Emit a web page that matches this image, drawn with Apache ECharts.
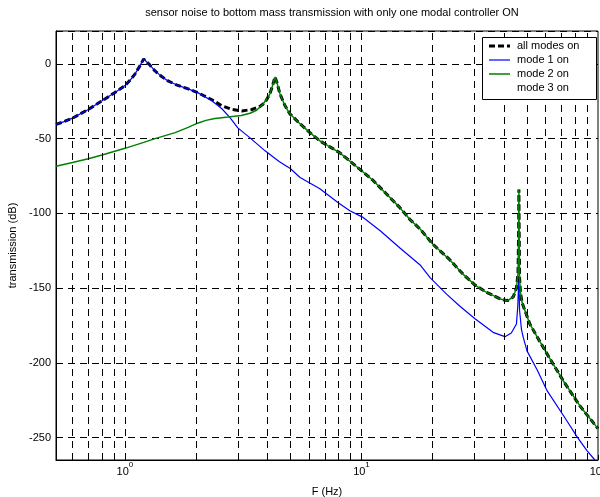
<!DOCTYPE html>
<html><head><meta charset="utf-8">
<script src="https://cdn.jsdelivr.net/npm/echarts@6/dist/echarts.min.js"></script>
<style>html,body{margin:0;padding:0;background:#fff}#c{width:600px;height:497px}</style>
</head><body><div id="c"></div>
<script>
const titleText = 'sensor noise to bottom mass transmission with only one modal controller ON';
const xAxisName = 'F (Hz)';
const yAxisName = 'transmission (dB)';
const legendNames = ['all modes on', 'mode 1 on', 'mode 2 on', 'mode 3 on'];

// all modes on (black dashed)
const allFreq = [0.511, 0.55, 0.6, 0.7, 0.8, 0.9, 0.95, 1.0, 1.05, 1.1, 1.15, 1.2, 1.22, 1.27, 1.34, 1.43, 1.52, 1.65, 1.85, 2.04, 2.33, 2.57, 2.83, 3.12, 3.44, 3.72, 3.9, 4.1, 4.2, 4.31, 4.4, 4.52, 4.75, 4.98, 5.49, 6.05, 6.67, 7.35, 8.1, 8.93, 10.1, 11.2, 12.3, 14.5, 16, 17.7, 20, 23.6, 27, 30.2, 33.5, 36.7, 39, 41.4, 43.8, 45.2, 45.9, 46.2, 46.3, 46.4, 46.6, 47.0, 47.8, 51.5, 55, 60.9, 71.3, 84, 100];
const allDb = [-40.5, -38.8, -36.3, -30.5, -24.7, -19.5, -17, -14.5, -11, -7, -2, 3.3, 2.5, -0.5, -4.7, -8.5, -11.4, -14, -16.7, -19.4, -24, -28, -30.5, -31.5, -30.5, -28.5, -26, -20, -15, -8.7, -13, -20, -28, -33.4, -40, -46, -51.5, -55.5, -59.5, -65, -72, -78, -84.5, -96, -104, -110.5, -120.5, -131, -141, -148, -152.5, -155.5, -157.5, -158.4, -156, -150, -140, -110, -84, -110, -143, -153, -160, -174, -182, -194, -212, -229, -244];

// mode 1 on (blue)
const m1Freq = [0.511, 0.55, 0.6, 0.7, 0.8, 0.9, 0.95, 1.0, 1.05, 1.1, 1.15, 1.2, 1.22, 1.27, 1.34, 1.43, 1.52, 1.65, 1.85, 2.04, 2.33, 2.57, 2.78, 3.0, 3.38, 3.9, 4.5, 5.0, 5.5, 6.67, 8.0, 8.93, 10.1, 12.0, 14.5, 17.7, 19.5, 22.9, 26, 30.2, 36, 40.4, 43, 45.2, 45.8, 46.2, 46.4, 46.6, 47.5, 48.3, 50.1, 55.4, 60.9, 73.7, 82, 89.8, 97];
const m1Db = [-40.5, -38.8, -36.3, -30.5, -24.7, -19.5, -17, -14.5, -11, -7, -2, 3.3, 2.5, -0.5, -4.7, -8.5, -11.4, -14, -16.7, -19.4, -24.7, -30, -36, -42.8, -49.5, -58, -65.5, -70, -76, -83.6, -93, -98.3, -102.5, -111.6, -123, -134.5, -143, -154, -162, -170.5, -179.6, -182.5, -180, -174, -162, -146, -152, -165, -178, -183, -192, -205, -218.6, -238.6, -250, -258.7, -265];

// mode 2 on (green)
const m2Freq = [0.511, 0.6, 0.7, 0.8, 1.0, 1.2, 1.34, 1.63, 1.85, 2.04, 2.2, 2.4, 2.73, 3.1, 3.38, 3.6, 3.83, 4.0, 4.1, 4.2, 4.31, 4.4, 4.52, 4.75, 4.98, 5.49, 6.05, 6.67, 7.35, 8.1, 8.93, 10.1, 11.2, 12.3, 14.5, 16, 17.7, 20, 23.6, 27, 30.2, 33.5, 36.7, 39, 41.4, 43.8, 45.2, 45.9, 46.2, 46.3, 46.4, 46.6, 47.0, 47.8, 51.5, 55, 60.9, 71.3, 84, 100];
const m2Db = [-68.5, -66, -63.5, -61, -56.5, -52.5, -50, -46, -42.5, -39.5, -37.8, -36.6, -35.6, -34.5, -33, -31, -27, -23, -20, -15, -8.7, -13, -20, -28, -33.4, -40, -46, -51.5, -55.5, -59.5, -65, -72, -78, -84.5, -96, -104, -110.5, -120.5, -131, -141, -148, -152.5, -155.5, -157.5, -158.4, -156, -150, -140, -110, -84, -110, -143, -153, -160, -174, -182, -194, -212, -229, -244];

// mode 3 on (not visible in the chart)
const m3Freq = [];
const m3Db = [];

const xGridLines = [0.6, 0.7, 0.8, 0.9, 1, 2, 3, 4, 5, 6, 7, 8, 9, 10, 20, 30, 40, 50, 60, 70, 80, 90];

const FONT = '"Liberation Sans", Arial, sans-serif';
const styles = [
  {color: '#000', width: 3, type: [6, 3]},
  {color: '#0000ff', width: 1.2, type: 'solid'},
  {color: '#008000', width: 1.5, type: 'solid'},
  {color: 'rgba(255,255,255,0)', width: 1, type: 'solid'}
];
function pairs(f, d) { return f.map((v, i) => [v, d[i]]); }

// legend drawn as graphic elements
const legendBox = {x: 482, y: 37, w: 114, h: 62, row0: 46, pitch: 14, lineX0: 489, lineX1: 510, textX: 517};
const legendEls = [{
  type: 'rect', shape: {x: legendBox.x + 0.5, y: legendBox.y + 0.5, width: legendBox.w, height: legendBox.h},
  style: {fill: '#fff', stroke: '#000', lineWidth: 1}, z: 100
}];
legendNames.forEach((n, i) => {
  const y = legendBox.row0 + i * legendBox.pitch;
  legendEls.push({
    type: 'line', shape: {x1: legendBox.lineX0, y1: y, x2: legendBox.lineX1, y2: y},
    style: {stroke: styles[i].color, lineWidth: styles[i].width, lineDash: styles[i].type === 'solid' ? null : styles[i].type},
    z: 101
  });
  legendEls.push({
    type: 'text', x: legendBox.textX, y: y,
    style: {text: n, fontFamily: FONT, fontSize: 11, fill: '#000', verticalAlign: 'middle', align: 'left'},
    z: 101
  });
});

const chart = echarts.init(document.getElementById('c'), null, {renderer: 'canvas'});
const dash = [7, 5];
const mk = (i, f, d) => ({
  type: 'line', name: legendNames[i], data: pairs(f, d), symbol: 'none', showSymbol: false,
  lineStyle: {color: styles[i].color, width: styles[i].width, type: styles[i].type},
  itemStyle: {color: styles[i].color}
});
chart.setOption({
  animation: false,
  backgroundColor: '#fff',
  title: {
    text: titleText, left: 327, top: 2, textAlign: 'center',
    textStyle: {fontFamily: FONT, fontSize: 11, fontWeight: 'normal', color: '#000'}
  },
  grid: {left: 56, right: 2, top: 31, bottom: 37, show: true, borderColor: '#000', borderWidth: 1,
         containLabel: false, outerBoundsMode: 'none'},
  graphic: legendEls,
  xAxis: {
    type: 'log', logBase: 10, min: 0.511, max: 100,
    name: xAxisName, nameLocation: 'middle', nameGap: 26,
    nameTextStyle: {fontFamily: FONT, fontSize: 11, color: '#000'},
    axisLine: {show: true, onZero: false, lineStyle: {color: '#000', width: 1}},
    axisTick: {show: true, inside: true, length: 5, lineStyle: {color: '#000'}},
    splitLine: {show: false},
    minorTick: {show: false},
    axisLabel: {
      margin: 1, showMinLabel: false, hideOverlap: false,
      formatter: function (v) {
        const e = Math.log10(v), r = Math.round(e);
        if (Math.abs(e - r) > 1e-6) return '';
        return '{b|10}{s|' + r + '}';
      },
      rich: {
        b: {fontFamily: FONT, fontSize: 11, color: '#000', verticalAlign: 'bottom', lineHeight: 16},
        s: {fontFamily: FONT, fontSize: 8, color: '#000', verticalAlign: 'top', lineHeight: 16}
      }
    }
  },
  yAxis: {
    type: 'value', min: -265, max: 22, minInterval: 50, maxInterval: 50,
    name: yAxisName, nameLocation: 'middle', nameGap: 36, nameRotate: 90,
    nameTextStyle: {fontFamily: FONT, fontSize: 11, color: '#000'},
    axisLine: {show: true, onZero: false, lineStyle: {color: '#000', width: 1}},
    axisTick: {show: true, inside: true, length: 5, lineStyle: {color: '#000'}},
    axisLabel: {
      showMinLabel: false, showMaxLabel: false, margin: 5,
      fontFamily: FONT, fontSize: 11, color: '#000',
      formatter: v => (v % 50 === 0 ? String(v) : '')
    },
    splitLine: {show: true, lineStyle: {color: '#000', type: dash, width: 1}}
  },
  series: [
    {
      type: 'line', name: '_grid', data: [], silent: true,
      markLine: {
        silent: true, symbol: ['none', 'none'], label: {show: false}, animation: false,
        lineStyle: {color: '#000', type: dash, width: 1},
        emphasis: {disabled: true},
        data: xGridLines.map(v => ({xAxis: v}))
      }
    },
    mk(0, allFreq, allDb),
    mk(1, m1Freq, m1Db),
    mk(2, m2Freq, m2Db),
    mk(3, m3Freq, m3Db)
  ]
});
</script>
</body></html>
